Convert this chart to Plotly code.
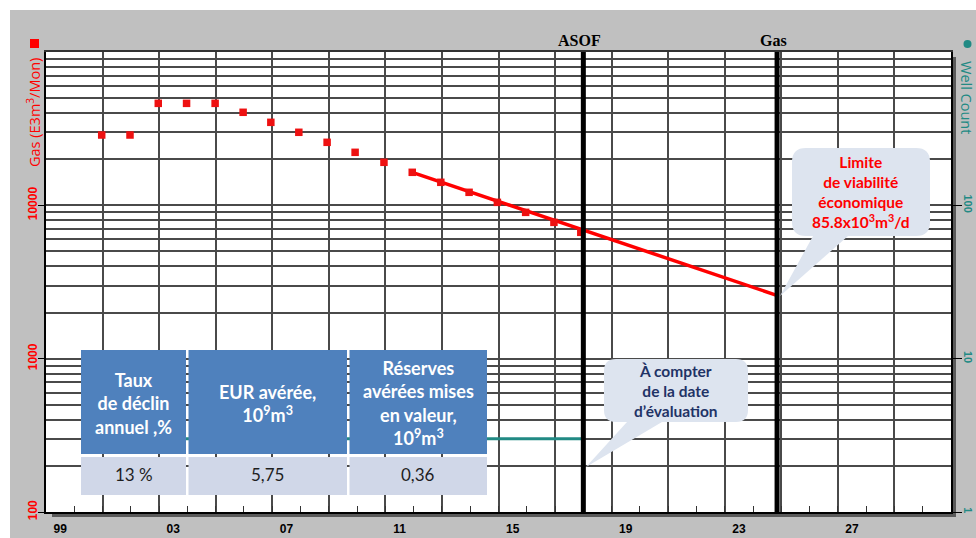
import plotly.graph_objects as go

# ---------------- data ----------------
hist_years = [2000.97, 2001.97, 2002.97, 2003.97, 2004.98, 2005.97, 2006.95, 2007.94,
              2008.94, 2009.93, 2010.95, 2011.95, 2012.96, 2013.96, 2014.96, 2015.96,
              2016.96, 2017.91]
hist_gas = [28750, 28750, 46250, 46250, 46250, 40440, 34780, 29950,
            25760, 22170, 19080, 16420, 14130, 12160, 10460, 9000,
            7745, 6667]
forecast_years = [2011.95, 2024.89]
forecast_gas = [16420, 2570]
well_years = [2000.97, 2018.0]
well_count = [3, 3]
event_years = [2018.0, 2024.85]
event_labels = ["ASOF", "Gas"]
x_label_pos = [1999.5, 2003.5, 2007.5, 2011.5, 2015.5, 2019.5, 2023.5, 2027.5]
x_label_text = ["99", "03", "07", "11", "15", "19", "23", "27"]
x_grid_years = list(range(2001, 2031, 2))
x_minor_years = list(range(2000, 2031))
gas_ticks = [100, 1000, 10000]
gas_minor = [m * d for d in (100, 1000, 10000) for m in range(2, 10)]
well_ticks = [1, 10, 100]
table_header = ["Taux<br>de déclin<br>annuel ,%",
                "EUR avérée,<br>10<sup>9</sup>m<sup>3</sup>",
                "Réserves<br>avérées mises<br>en valeur,<br>10<sup>9</sup>m<sup>3</sup>"]
table_values = ["13 %", "5,75", "0,36"]
limit_text = "Limite<br>de viabilité<br>économique<br>85.8x10<sup>3</sup>m<sup>3</sup>/d"
asof_text = "À compter<br>de la date<br>d’évaluation"

RED = "#ff0000"
TEAL = "#218a84"
GRID = "#4a4a4a"

# ---------------- pixel helpers (layout only; screen pixels) ----------------
L, T, W, H = 46, 52, 905, 460
FW, FH = 976, 538


def pxp(x, y):
    return (x - L) / W, (T + H - y) / H


def rect(x0, y0, x1, y1, color, layer="above"):
    a, b = pxp(x0, y1)
    c, d = pxp(x1, y0)
    return dict(type="rect", xref="paper", yref="paper", x0=a, y0=b, x1=c, y1=d,
                fillcolor=color, line=dict(width=0), layer=layer)


def bubble(x0, y0, x1, y1, r, tb0, tb1, tipx, tipy):
    seq = [("M", [(x0 + r, y0)]), ("L", [(x1 - r, y0)]), ("Q", [(x1, y0), (x1, y0 + r)]),
           ("L", [(x1, y1 - r)]), ("Q", [(x1, y1), (x1 - r, y1)]), ("L", [(tb1, y1)]),
           ("L", [(tipx, tipy)]), ("L", [(tb0, y1)]), ("L", [(x0 + r, y1)]),
           ("Q", [(x0, y1), (x0, y1 - r)]), ("L", [(x0, y0 + r)]),
           ("Q", [(x0, y0), (x0 + r, y0)])]
    out = []
    for cmd, pts in seq:
        s = " ".join("%.5f,%.5f" % pxp(a, b) for a, b in pts)
        out.append(cmd + s)
    return " ".join(out) + " Z"


fig = go.Figure()

fig.add_trace(go.Scatter(x=well_years, y=well_count, mode="lines", xaxis="x2", yaxis="y2",
                         line=dict(color=TEAL, width=3), showlegend=False, hoverinfo="skip"))
fig.add_trace(go.Scatter(x=forecast_years, y=forecast_gas, mode="lines",
                         line=dict(color=RED, width=3.5), showlegend=False))
fig.add_trace(go.Scatter(x=hist_years, y=hist_gas, mode="markers",
                         marker=dict(symbol="square", size=7.5, color="#ee1111",
                                     line=dict(width=0)), showlegend=False))

shapes = []
annotations = []

# ---- table (cells + text) ----
col_edges = [(81, 186), (188.5, 347), (349.5, 487)]
head_y, body_y = (350, 454), (457, 495)
for (cx0, cx1), head, val in zip(col_edges, table_header, table_values):
    shapes.append(rect(cx0, head_y[0], cx1, head_y[1], "#4f81bd"))
    shapes.append(rect(cx0, body_y[0], cx1, body_y[1], "#d0d7e8"))
    ax, ay = pxp((cx0 + cx1) / 2, 403)
    annotations.append(dict(x=ax, y=ay, xref="paper", yref="paper", xanchor="center",
                            yanchor="middle", text=head, showarrow=False, align="center",
                            font=dict(family="Lato", size=18, color="white", weight="bold")))
    ax, ay = pxp((cx0 + cx1) / 2, 474)
    annotations.append(dict(x=ax, y=ay, xref="paper", yref="paper", xanchor="center",
                            yanchor="middle", text=val, showarrow=False, align="center",
                            font=dict(family="Lato", size=17, color="#1e1e1e")))

for ev in event_years:
    shapes.append(dict(type="line", xref="x", yref="paper", x0=ev, x1=ev, y0=0, y1=1,
                       line=dict(color="black", width=5)))
# callout bubbles
shapes.append(dict(type="path", xref="paper", yref="paper",
                   path=bubble(792, 148, 930, 236, 14, 813, 848, 780, 296),
                   fillcolor="#dde4ef", line=dict(width=0)))
shapes.append(dict(type="path", xref="paper", yref="paper",
                   path=bubble(604, 359, 748, 422, 12, 627, 662, 586, 467),
                   fillcolor="#dde4ef", line=dict(width=0)))
# white outer strips
shapes.append(rect(0, 0, 976, 10, "white", "below"))
shapes.append(rect(0, 0, 10, 538, "white", "below"))
# frame shadows
shapes.append(rect(52, 512, 956, 517, "#5a5a5a", "below"))
shapes.append(rect(951, 57, 956, 517, "#5a5a5a", "below"))
# legend glyphs
shapes.append(rect(30, 39, 39, 48, RED))
a, b = pxp(963.5, 48)
c, d = pxp(971.5, 40)
shapes.append(dict(type="circle", xref="paper", yref="paper", x0=a, y0=b, x1=c, y1=d,
                   fillcolor=TEAL, line=dict(width=0)))

for ev, lab in zip(event_years, event_labels):
    annotations.append(dict(x=ev, xref="x", y=1, yref="paper", xanchor="center",
                            yanchor="bottom", xshift=-4, yshift=1,
                            text=lab, showarrow=False,
                            font=dict(family="Liberation Serif", size=16, color="black",
                                      weight="bold")))
cx, cy = pxp(861, 192)
annotations.append(dict(x=cx, y=cy, xref="paper", yref="paper", xanchor="center",
                        yanchor="middle", text=limit_text, showarrow=False, align="center",
                        font=dict(family="Lato", size=15.5, color=RED, weight="bold")))
cx, cy = pxp(676, 391)
annotations.append(dict(x=cx, y=cy, xref="paper", yref="paper", xanchor="center",
                        yanchor="middle", text=asof_text, showarrow=False, align="center",
                        font=dict(family="Lato", size=15.5, color="#1f3366", weight="bold")))
cx, cy = pxp(33, 113)
annotations.append(dict(x=cx, y=cy, xref="paper", yref="paper", xanchor="center",
                        yanchor="middle", text="Gas (E3m<sup>3</sup>/Mon)",
                        textangle=-90, showarrow=False,
                        font=dict(family="Open Sans", size=14.5, color=RED)))
cx, cy = pxp(967, 97)
annotations.append(dict(x=cx, y=cy, xref="paper", yref="paper", xanchor="center",
                        yanchor="middle", text="Well Count",
                        textangle=90, showarrow=False,
                        font=dict(family="Open Sans", size=14.5, color=TEAL)))

fig.update_layout(
    width=FW, height=FH, autosize=False,
    margin=dict(l=L, r=FW - L - W, t=T, b=FH - T - H, pad=0),
    paper_bgcolor="#c0c0c0", plot_bgcolor="white",
    showlegend=False,
    xaxis=dict(range=[1999, 2031], tickmode="array", tickvals=x_label_pos, ticktext=x_label_text,
               ticks="", showgrid=False, zeroline=False, showline=True, linecolor="black",
               linewidth=1.5, automargin=False, ticklabelstandoff=5,
               tickfont=dict(family="Liberation Sans", size=12, color="black", weight="bold"),
               minor=dict(tickmode="array", tickvals=x_minor_years, ticks="inside", ticklen=6,
                          tickcolor="#333", tickwidth=1, showgrid=False)),
    xaxis2=dict(matches="x", overlaying="x", side="top", anchor="y2", range=[1999, 2031],
                tickmode="array", tickvals=x_grid_years, showticklabels=False, ticks="",
                showgrid=True, gridcolor=GRID, gridwidth=1.5, zeroline=False,
                showline=True, linecolor="#333", linewidth=1.5, automargin=False),
    yaxis=dict(type="log", range=[2, 5], tickmode="array", tickvals=gas_ticks,
               ticktext=[str(v) for v in gas_ticks], tickangle=-90, ticks="outside",
               ticklen=6, tickcolor="black", showgrid=True, gridcolor=GRID, gridwidth=1.5,
               showline=True, linecolor="black", linewidth=1.5, zeroline=False, automargin=False,
               ticklabelstandoff=-4,
               tickfont=dict(family="Liberation Sans", size=12, color=RED, weight="bold"),
               minor=dict(tickmode="array", tickvals=gas_minor, showgrid=True, gridcolor=GRID,
                          gridwidth=1.5, ticks="")),
    yaxis2=dict(type="log", range=[0, 3], overlaying="y", side="right", anchor="x2",
                tickmode="array", tickvals=well_ticks, ticktext=[str(v) for v in well_ticks],
                tickangle=90, ticks="outside", ticklen=9, tickcolor="black", showgrid=False,
                showline=True, linecolor="black", linewidth=1.5, zeroline=False, automargin=False,
                ticklabelstandoff=-2,
                tickfont=dict(family="Liberation Sans", size=11, color=TEAL, weight="bold")),
    shapes=shapes,
    annotations=annotations,
)

fig.write_html("out.html", config={"displayModeBar": False},
               post_script="document.body.style.margin='0';document.body.style.overflow='hidden';")
